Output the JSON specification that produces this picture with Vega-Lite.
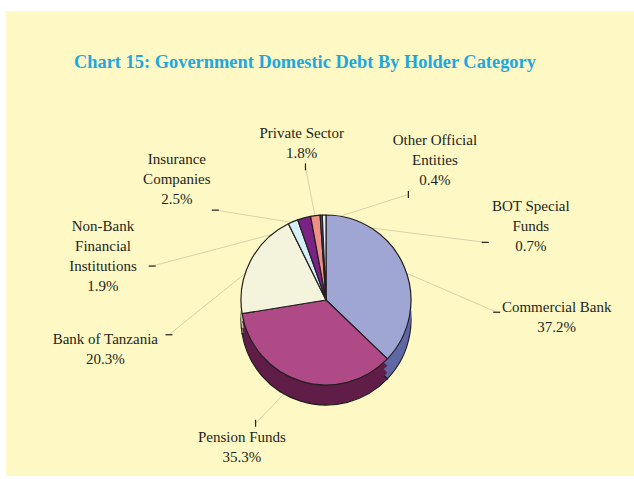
{
  "$schema": "https://vega.github.io/schema/vega-lite/v6.json",
  "width": 628,
  "height": 465,
  "autosize": "none",
  "padding": {"left": 6, "top": 11, "right": 0, "bottom": 3},
  "background": "#ffffff",
  "config": {"view": {"stroke": null, "fill": "#fef8c4"}},
  "title": {
    "text": "Chart 15: Government Domestic Debt By Holder Category",
    "font": "Liberation Serif",
    "fontSize": 18.4,
    "fontWeight": "bold",
    "color": "#1ca8e0",
    "anchor": "start",
    "dx": 68,
    "baseline": "alphabetic",
    "offset": -75
  },
  "data": {
    "values": [
      {"holder": "Commercial Bank", "pct": 37.2},
      {"holder": "Pension Funds", "pct": 35.3},
      {"holder": "Bank of Tanzania", "pct": 20.3},
      {"holder": "Non-Bank\nFinancial\nInstitutions", "pct": 1.9},
      {"holder": "Insurance\nCompanies", "pct": 2.5},
      {"holder": "Private Sector", "pct": 1.8},
      {"holder": "Other Official\nEntities", "pct": 0.4},
      {"holder": "BOT Special\nFunds", "pct": 0.7}
    ]
  },
  "transform": [
    {"window": [{"op": "row_number", "as": "rn"}]},
    {"calculate": "datum.rn - 1", "as": "idx"},
    {"joinaggregate": [{"op": "sum", "field": "pct", "as": "total"}]},
    {"window": [{"op": "sum", "field": "pct", "as": "cum"}], "sort": [{"field": "idx"}], "frame": [null, 0]},
    {"calculate": "(datum.cum - datum.pct / 2) / datum.total * 360", "as": "midDeg"},
    {"calculate": "datum.idx == 1 ? datum.midDeg + 4 : 252 + ((datum.idx + 6) % 8) * 34", "as": "labDeg"},
    {"calculate": "datum.labDeg * PI / 180", "as": "lr"},
    {"calculate": "datum.midDeg * PI / 180", "as": "mr"},
    {"calculate": "datum.holder + '\\n' + format(datum.pct, '.1f') + '%'", "as": "label"},
    {"calculate": "split(datum.label, '\\n')", "as": "lines"},
    {"calculate": "length(datum.lines)", "as": "nlines"},
    {"calculate": "max(length(datum.lines[0]), length(datum.lines[1] || ''), length(datum.lines[2] || ''), length(datum.lines[3] || ''))", "as": "maxlen"},
    {"calculate": "232 * sin(datum.lr)", "as": "cx"},
    {"calculate": "158 * cos(datum.lr)", "as": "cy"},
    {"calculate": "datum.cy + (datum.nlines - 1) * 10", "as": "ly"},
    {"calculate": "sqrt(datum.cx * datum.cx + datum.cy * datum.cy)", "as": "d"},
    {"calculate": "-datum.cx / datum.d", "as": "ux"},
    {"calculate": "-datum.cy / datum.d", "as": "uy"},
    {"calculate": "abs(datum.ux) < 0.001 ? 9999 : (datum.maxlen * 3.6 + 6) / abs(datum.ux)", "as": "tx"},
    {"calculate": "abs(datum.uy) < 0.001 ? 9999 : (datum.nlines * 10 + 4) / abs(datum.uy)", "as": "ty"},
    {"calculate": "min(datum.tx, datum.ty)", "as": "t"},
    {"calculate": "datum.cx + datum.t * datum.ux", "as": "ex"},
    {"calculate": "datum.cy + datum.t * datum.uy", "as": "ey"},
    {"calculate": "datum.ty < datum.tx ? 90 : 0", "as": "tickAngle"},
    {"calculate": "78 * sin(datum.mr)", "as": "sx"},
    {"calculate": "78 * cos(datum.mr)", "as": "sy"}
  ],
  "layer": [
    {
      "mark": {"type": "rule", "color": "#d2cfa6", "strokeWidth": 0.9},
      "encoding": {
        "x": {"field": "sx", "type": "quantitative", "scale": {"domain": [-320, 308], "nice": false, "zero": false}, "axis": null},
        "y": {"field": "sy", "type": "quantitative", "scale": {"domain": [-176, 289], "nice": false, "zero": false}, "axis": null},
        "x2": {"field": "ex"},
        "y2": {"field": "ey"}
      }
    },
    {
      "mark": {"type": "arc", "radius": 85, "stroke": "#231f20", "strokeWidth": 1.2},
      "encoding": {
        "x": {"datum": 0, "type": "quantitative", "scale": {"domain": [-320, 308], "nice": false, "zero": false}, "axis": null},
        "y": {"datum": -20, "type": "quantitative", "scale": {"domain": [-176, 289], "nice": false, "zero": false}, "axis": null},
        "theta": {"field": "pct", "type": "quantitative", "stack": true},
        "order": {"field": "idx"},
        "fill": {"field": "holder", "type": "nominal", "legend": null, "scale": {
          "domain": ["Commercial Bank", "Pension Funds", "Bank of Tanzania", "Non-Bank\nFinancial\nInstitutions", "Insurance\nCompanies", "Private Sector", "Other Official\nEntities", "BOT Special\nFunds"],
          "range": ["#5f67a5", "#5f1d48", "#c9c7a0", "#a6c3cc", "#4e1060", "#c06e62", "#153f80", "#b0c0d8"]}}
      }
    },
    {
      "mark": {"type": "arc", "radius": 85},
      "encoding": {
        "x": {"datum": 0, "type": "quantitative", "scale": {"domain": [-320, 308], "nice": false, "zero": false}, "axis": null},
        "y": {"datum": -14, "type": "quantitative", "scale": {"domain": [-176, 289], "nice": false, "zero": false}, "axis": null},
        "theta": {"field": "pct", "type": "quantitative", "stack": true},
        "order": {"field": "idx"},
        "fill": {"field": "holder", "type": "nominal", "legend": null}
      }
    },
    {
      "mark": {"type": "arc", "radius": 85},
      "encoding": {
        "x": {"datum": 0, "type": "quantitative", "scale": {"domain": [-320, 308], "nice": false, "zero": false}, "axis": null},
        "y": {"datum": -7, "type": "quantitative", "scale": {"domain": [-176, 289], "nice": false, "zero": false}, "axis": null},
        "theta": {"field": "pct", "type": "quantitative", "stack": true},
        "order": {"field": "idx"},
        "fill": {"field": "holder", "type": "nominal", "legend": null}
      }
    },
    {
      "mark": {"type": "arc", "radius": 85, "stroke": "#231f20", "strokeWidth": 1.2, "strokeJoin": "round", "opacity": 1},
      "encoding": {
        "x": {"datum": 0, "type": "quantitative", "scale": {"domain": [-320, 308], "nice": false, "zero": false}, "axis": null},
        "y": {"datum": 0, "type": "quantitative", "scale": {"domain": [-176, 289], "nice": false, "zero": false}, "axis": null},
        "theta": {"field": "pct", "type": "quantitative", "stack": true},
        "order": {"field": "idx"},
        "color": {"field": "holder", "type": "nominal", "legend": null, "scale": {
          "domain": ["Commercial Bank", "Pension Funds", "Bank of Tanzania", "Non-Bank\nFinancial\nInstitutions", "Insurance\nCompanies", "Private Sector", "Other Official\nEntities", "BOT Special\nFunds"],
          "range": ["#a0a6d4", "#b04a86", "#f4f4dc", "#d6eef6", "#7b2287", "#ef8f86", "#2c6cb4", "#e8eef8"]}}
      }
    },
    {
      "mark": {"type": "point", "shape": "stroke", "size": 49, "stroke": "#231f20", "strokeWidth": 1.2, "opacity": 1},
      "encoding": {
        "x": {"field": "ex", "type": "quantitative", "scale": {"domain": [-320, 308], "nice": false, "zero": false}, "axis": null},
        "y": {"field": "ey", "type": "quantitative", "scale": {"domain": [-176, 289], "nice": false, "zero": false}, "axis": null},
        "angle": {"field": "tickAngle", "type": "quantitative", "scale": null}
      }
    },
    {
      "mark": {"type": "text", "font": "Liberation Serif", "fontSize": 15, "color": "#231f20", "lineBreak": "\n", "lineHeight": 20, "align": "center", "baseline": "middle"},
      "encoding": {
        "x": {"field": "cx", "type": "quantitative", "scale": {"domain": [-320, 308], "nice": false, "zero": false}, "axis": null},
        "y": {"field": "ly", "type": "quantitative", "scale": {"domain": [-176, 289], "nice": false, "zero": false}, "axis": null},
        "text": {"field": "label"}
      }
    }
  ]
}
